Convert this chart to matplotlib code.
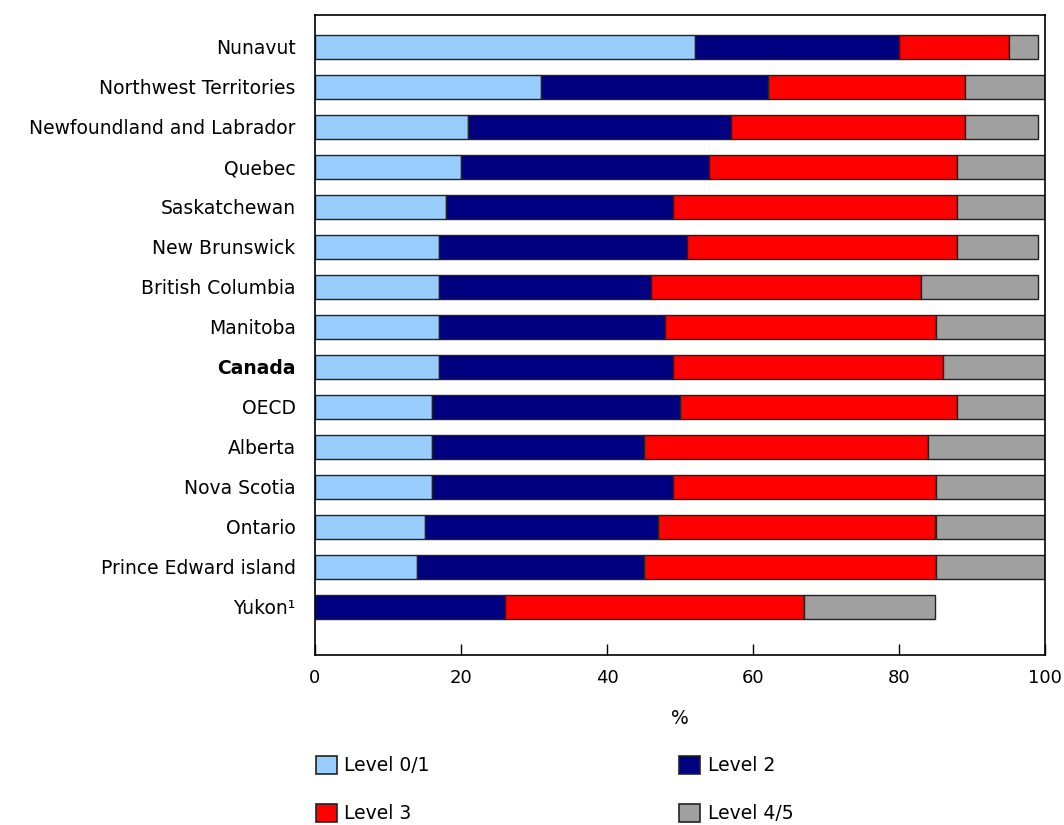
import matplotlib
matplotlib.use("Agg")
import matplotlib.pyplot as plt
import numpy as np
from matplotlib.patches import Patch

plt.rcParams['font.family'] = ['DejaVu Sans']

regions = ["Nunavut", "Northwest Territories", "Newfoundland and Labrador", "Quebec",
           "Saskatchewan", "New Brunswick", "British Columbia", "Manitoba", "Canada",
           "OECD", "Alberta", "Nova Scotia", "Ontario", "Prince Edward island", "Yukon¹"]
level01 = [52, 31, 21, 20, 18, 17, 17, 17, 17, 16, 16, 16, 15, 14, 0]
level2 = [28, 31, 36, 34, 31, 34, 29, 31, 32, 34, 29, 33, 32, 31, 26]
level3 = [15, 27, 32, 34, 39, 37, 37, 37, 37, 38, 39, 36, 38, 40, 41]
level45 = [4, 11, 10, 12, 12, 11, 16, 15, 14, 12, 16, 15, 15, 15, 18]

series = [("Level 0/1", level01, "#99CCFF"),
          ("Level 2", level2, "#000080"),
          ("Level 3", level3, "#FF0000"),
          ("Level 4/5", level45, "#A0A0A0")]

FS = 13.5

fig = plt.figure(figsize=(10.64, 8.25), dpi=100)
ax = fig.add_axes([315/1064, 1 - 655/825, 730/1064, 640/825])

n = len(regions)
y = np.arange(n)[::-1]
left = np.zeros(n)
handles = {}
for name, vals, col in series:
    v = np.array(vals, dtype=float)
    mask = v > 0
    ax.barh(y[mask], v[mask], left=left[mask], height=0.6, color=col,
            edgecolor="#222222", linewidth=1.0)
    left += v
    handles[name] = Patch(facecolor=col, edgecolor="#222222", linewidth=1.2)

ax.set_xlim(0, 100)
ax.set_ylim(-1.2, n - 1 + 0.8)
ax.set_yticks(y)
ax.set_yticklabels(regions, fontsize=FS)
for lbl in ax.get_yticklabels():
    if lbl.get_text() == "Canada":
        lbl.set_fontweight("bold")
ax.tick_params(axis='y', length=0, pad=14)
ax.set_xticks([0, 20, 40, 60, 80, 100])
ax.tick_params(axis='x', direction='in', length=8, labelsize=13, pad=10, width=1)
ax.set_xlabel("%", fontsize=FS, labelpad=16)
for s in ax.spines.values():
    s.set_linewidth(1.2)
    s.set_color("black")

order = ["Level 0/1", "Level 3", "Level 2", "Level 4/5"]
fig.legend([handles[k] for k in order], order, ncol=2, loc="upper left",
           bbox_to_anchor=(308/1064, 1 - 748.5/825), frameon=False, fontsize=FS,
           handlelength=1.12, handleheight=1.12, handletextpad=0.4,
           labelspacing=1.5, columnspacing=13.32, borderaxespad=0)

fig.savefig("out.png", dpi=100)
